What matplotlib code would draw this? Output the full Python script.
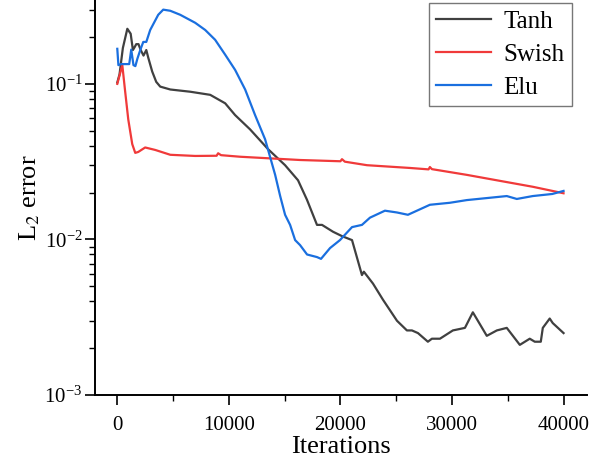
import matplotlib
matplotlib.use("Agg")
import matplotlib.pyplot as plt
from matplotlib.ticker import LogLocator, MultipleLocator

plt.rcParams["font.family"] = ["Liberation Serif", "DejaVu Serif"]
plt.rcParams["mathtext.fontset"] = "stix"
plt.rcParams["axes.unicode_minus"] = False

# values
tanh_x = [0, 200, 500, 900, 1200, 1400, 1550, 1700, 1900, 2100, 2350, 2600, 2780,
          3130, 3490, 3850, 4750, 6540, 8330, 9670, 10560, 11900, 13520, 15040,
          16200, 17000, 17900, 18350, 19340, 20140, 21040, 21930, 22100, 22920,
          23810, 25070, 25960, 26410, 26950, 27840, 28200, 28920, 30080, 31160,
          31870, 33120, 34020, 34910, 36080, 36970, 37420, 37960, 38140, 38760,
          39030, 40000]
tanh_y = [0.102, 0.115, 0.17, 0.226, 0.21, 0.165, 0.172, 0.18, 0.18, 0.165, 0.152,
          0.165, 0.147, 0.120, 0.103, 0.096, 0.092, 0.089, 0.085, 0.075, 0.063,
          0.051, 0.038, 0.030, 0.024, 0.018, 0.0124, 0.0124, 0.0112, 0.0105,
          0.0099, 0.0059, 0.0062, 0.0052, 0.0041, 0.0030, 0.0026, 0.0026, 0.0025,
          0.0022, 0.0023, 0.0023, 0.0026, 0.0027, 0.0034, 0.0024, 0.0026, 0.0027,
          0.0021, 0.0023, 0.0022, 0.0022, 0.0027, 0.0031, 0.0029, 0.0025]

swish_x = [0, 450, 700, 985, 1340, 1610, 1880, 2500, 3400, 4750, 6980, 8900, 9040,
           9300, 11010, 16380, 20000, 20140, 20400, 22380, 26230, 27900, 28020,
           28200, 31330, 34290, 37240, 40000]
swish_y = [0.100, 0.132, 0.090, 0.059, 0.041, 0.036, 0.0365, 0.039, 0.0376,
           0.035, 0.0344, 0.0345, 0.0358, 0.0348, 0.034, 0.0324, 0.0318, 0.0328,
           0.0316, 0.030, 0.0288, 0.0282, 0.0292, 0.0283, 0.026, 0.0238, 0.0218,
           0.0198]

elu_x = [0, 100, 350, 1070, 1250, 1450, 1620, 1800, 2060, 2330, 2600, 2950, 3670,
         4120, 4750, 5640, 6980, 7880, 8770, 9670, 10560, 11460, 12350, 13250,
         14150, 14600, 15040, 15490, 15940, 16380, 17010, 17900, 18260, 19070,
         19960, 21040, 21930, 22650, 23990, 25070, 26050, 28020, 29810, 31330,
         34910, 35810, 37240, 39000, 40000]
elu_y = [0.168, 0.132, 0.134, 0.134, 0.166, 0.132, 0.130, 0.145, 0.165, 0.186,
         0.186, 0.222, 0.278, 0.300, 0.295, 0.278, 0.247, 0.222, 0.192, 0.154,
         0.123, 0.092, 0.063, 0.044, 0.026, 0.019, 0.0144, 0.0124, 0.0099,
         0.0092, 0.0080, 0.0077, 0.0075, 0.0088, 0.0099, 0.0120, 0.0124, 0.0138,
         0.0153, 0.0149, 0.0144, 0.0167, 0.0172, 0.0179, 0.0190, 0.0182, 0.0190,
         0.0196, 0.0205]

fig = plt.figure(figsize=(5.91, 4.66), dpi=100)
ax = fig.add_axes([0.1607, 0.1524, 0.8325, 0.8476])

ax.plot(tanh_x, tanh_y, color="#404040", lw=1.6, label="Tanh")
ax.plot(swish_x, swish_y, color="#f03a3a", lw=1.6, label="Swish")
ax.plot(elu_x, elu_y, color="#1a6fdf", lw=1.6, label="Elu")

ax.set_yscale("log")
ax.set_ylim(1e-3, 0.346)
ax.set_xlim(-2000, 42100)
ax.xaxis.set_major_locator(MultipleLocator(10000))
ax.xaxis.set_minor_locator(MultipleLocator(5000))
ax.yaxis.set_major_locator(LogLocator(base=10))
ax.yaxis.set_minor_locator(LogLocator(base=10, subs=range(2, 10)))

for side in ["top", "right"]:
    ax.spines[side].set_visible(False)
for side in ["left", "bottom"]:
    ax.spines[side].set_linewidth(1.4)

ax.tick_params(which="major", direction="out", length=7, width=1.2, labelsize=15)
ax.tick_params(which="minor", direction="out", length=4, width=1.0)
ax.tick_params(axis="x", which="major", pad=8)
ax.tick_params(axis="y", which="major", pad=2)

ax.set_xlabel("Iterations", fontsize=19, labelpad=1)
ax.set_ylabel("L$_2$ error", fontsize=19, labelpad=2)

leg = ax.legend(loc="upper right", bbox_to_anchor=(0.97, 0.993), fontsize=18,
                frameon=True, fancybox=False, edgecolor="#555555",
                handlelength=2.2, handletextpad=0.5, labelspacing=0.42,
                borderpad=0.3, borderaxespad=0)
leg.get_frame().set_linewidth(1.0)

fig.savefig("out.png", dpi=100)
